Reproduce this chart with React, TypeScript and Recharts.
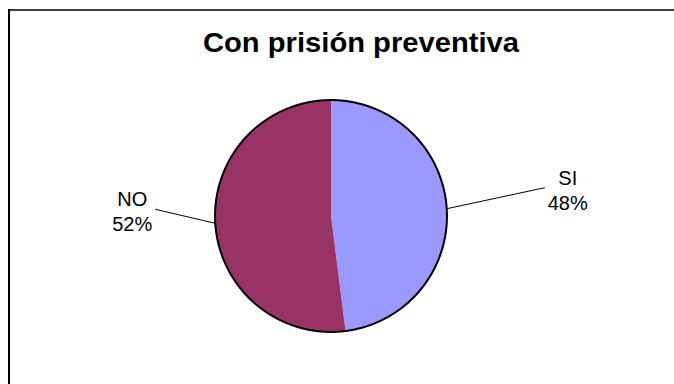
import React from "react";
import { PieChart, Pie, Cell } from "recharts";

const categories = ["SI", "NO"];
const values = [48, 52];
const sliceColors = ["#9999FF", "#993366"];
const title = "Con prisión preventiva";

const pieData = categories.map((name, i) => ({ name, value: values[i] }));
const ringData = [{ name: "outline", value: 1 }];

const RADIAN = Math.PI / 180;
const FONT = "'Liberation Sans', Arial, sans-serif";

// elbow offsets for the leader lines, Excel style
const leaderOffsets = [
  { dx: 98, dy: -21, side: 1 },
  { dx: -60, dy: -14, side: -1 },
];

const renderLabel = (props: any) => {
  const { cx, cy, midAngle, outerRadius, percent, name, index } = props;
  const sx = cx + outerRadius * Math.cos(-midAngle * RADIAN);
  const sy = cy + outerRadius * Math.sin(-midAngle * RADIAN);
  const off = leaderOffsets[index];
  const ex = sx + off.dx;
  const ey = sy + off.dy;
  const tx = ex + off.side * 23;
  return (
    <g>
      <polyline points={`${sx},${sy} ${ex},${ey}`} fill="none" stroke="#000" strokeWidth={1} />
      <text x={tx} y={ey - 3} textAnchor="middle" fontFamily={FONT} fontSize={20} fill="#000">
        {name}
      </text>
      <text x={tx} y={ey + 22} textAnchor="middle" fontFamily={FONT} fontSize={20} fill="#000">
        {`${Math.round(percent * 100)}%`}
      </text>
    </g>
  );
};

export default function App() {
  return (
    <div
      style={{
        position: "fixed",
        left: 0,
        top: 0,
        width: 674,
        height: 384,
        overflow: "hidden",
        background: "#fff",
      }}
    >
      {/* chart frame: only top and left edges fall inside the picture */}
      <div style={{ position: "absolute", left: 8, top: 9, width: 666, height: 2, background: "#404040" }} />
      <div style={{ position: "absolute", left: 8, top: 9, width: 2, height: 375, background: "#000" }} />
      <div style={{ position: "absolute", left: 0, top: 0 }}>
        <PieChart width={674} height={384} margin={{ top: 0, right: 0, bottom: 0, left: 0 }}>
          <text
            x={361}
            y={52}
            textAnchor="middle"
            fontFamily={FONT}
            fontWeight="bold"
            fontSize={27}
            textLength={316}
            lengthAdjust="spacingAndGlyphs"
            fill="#000"
          >
            {title}
          </text>
          <Pie
            data={pieData}
            dataKey="value"
            nameKey="name"
            cx={331}
            cy={216}
            outerRadius={116}
            startAngle={90}
            endAngle={-270}
            stroke="none"
            label={renderLabel}
            labelLine={false}
            isAnimationActive={false}
          >
            {pieData.map((d, i) => (
              <Cell key={d.name} fill={sliceColors[i]} />
            ))}
          </Pie>
          <Pie
            data={ringData}
            dataKey="value"
            cx={331}
            cy={216}
            innerRadius={115}
            outerRadius={117}
            startAngle={90}
            endAngle={-270}
            fill="#000"
            stroke="none"
            isAnimationActive={false}
          />
        </PieChart>
      </div>
    </div>
  );
}
